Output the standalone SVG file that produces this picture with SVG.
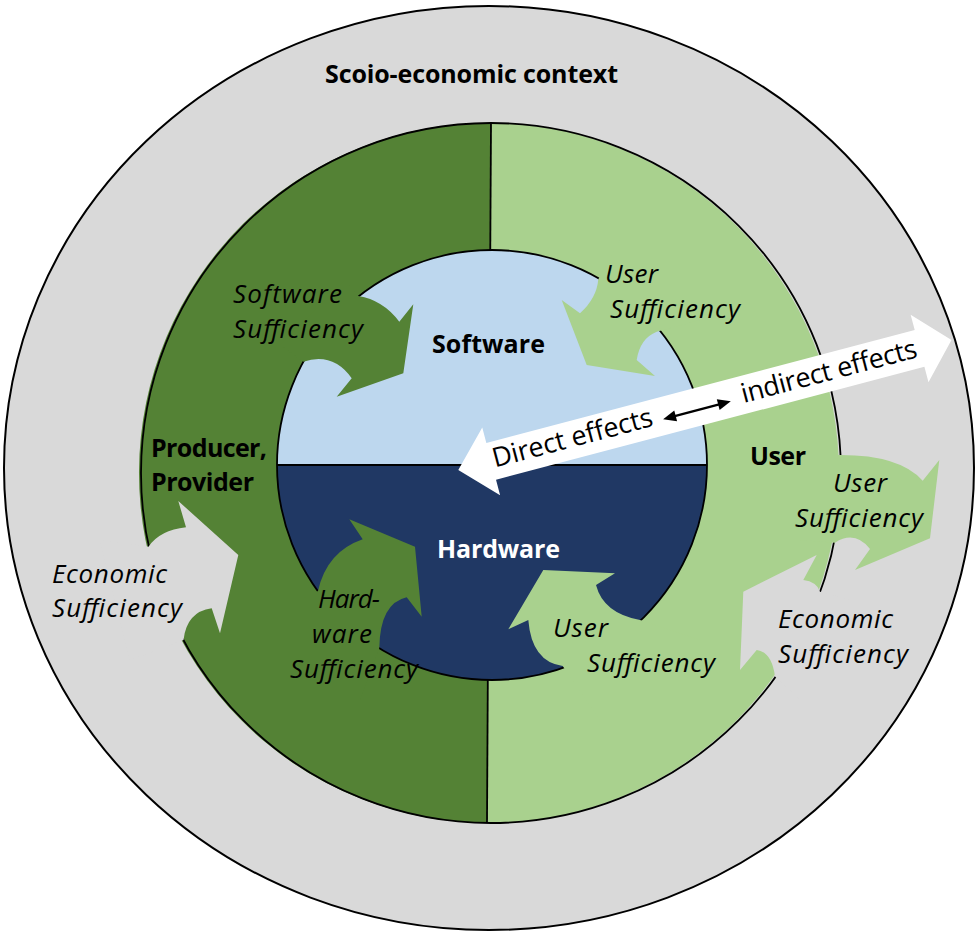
<svg xmlns="http://www.w3.org/2000/svg" width="979" height="933" viewBox="0 0 979 933">
<style>
.st{stroke:#000;stroke-width:1.8;fill:none}
.dg{fill:#548235}
.lg{fill:#a9d18e}
.gr{fill:#d9d9d9}
.bl{fill:#bdd7ee}
.nv{fill:#203864}
.it{font-family:"Open Sans","Liberation Sans",sans-serif;font-style:italic;font-size:26px;fill:#000}
.bd{font-family:"Open Sans","Liberation Sans",sans-serif;font-weight:bold;font-size:25px;fill:#000}
.wt{font-family:"Open Sans","Liberation Sans",sans-serif;font-size:27px;fill:#000}
</style>
<rect width="979" height="933" fill="#fff"/>
<g id="context">
<ellipse cx="489" cy="468" rx="485" ry="462" class="gr" stroke="#000" stroke-width="2"/>
<text class="bd" x="325" y="83" textLength="293">Scoio-economic context</text>
</g>
<g id="ring">
<path class="dg" d="M491,123 A350,350 0 0 0 487,823 Z"/>
<path class="lg" d="M491,123 A350,350 0 0 1 487,823 Z"/>
<circle class="st" cx="491" cy="473" r="350"/>
<line class="st" x1="491" y1="123" x2="487" y2="823"/>
</g>
<g id="economic-left">
<path class="gr" d="M148.5,546.7 Q160,530 186,527.3 L178.3,501 L238.3,555 L220,633.3 L211.7,608.3 Q186.7,611.7 183.5,640 L130,660 L100,540 Z"/>
</g>
<g id="economic-right">
<path class="gr" d="M820,591.7 Q816.7,581.7 803.3,580 L816.7,555 L743.3,591.7 L740,670 L756.7,650 Q771.7,651.7 775,676.5 L800,700 L850,600 Z"/>
</g>
<g id="user-outer">
<path class="lg" d="M840.5,455 Q900,455 922.7,480.7 L939.3,460 L930,538.3 L855,570 L870,549 Q855,530 835,542.7 L800,540 L800,455 Z"/>
</g>
<g id="core">
<path class="bl" d="M277,465 A215,215 0 0 1 707,465 Z"/>
<path class="nv" d="M277,465 A215,215 0 0 0 707,465 Z"/>
<circle class="st" cx="492" cy="465" r="215"/>
<line class="st" x1="277" y1="465" x2="707" y2="465"/>
</g>
<g id="software-sufficiency">
<path class="dg" d="M358.3,296 Q383,300 399.3,321.7 L413.3,304.3 L403.3,373.3 L336.7,396.7 L351.7,378.3 Q333,352 303.3,361.7 L280,345 L345,280 Z"/>
</g>
<g id="user-sufficiency-top">
<path class="lg" d="M598.3,279.3 Q596.7,298.3 580,313.3 L561.7,300 L586.7,365 L655,376 L636.7,360 Q640,338.3 656.7,331.7 L700,320 L620,240 Z"/>
</g>
<g id="hardware-sufficiency">
<path class="dg" d="M318,591 Q326.7,551.7 362.7,539.3 L349.3,519.3 L415,546.7 L421.7,616.7 L406.7,597.3 Q380,603.3 379.3,648 L360,700 L260,620 Z"/>
</g>
<g id="user-sufficiency-bottom">
<path class="lg" d="M640,620 Q603.3,613.3 596,585 L615,573.3 L543.3,570 L508.3,629.3 L528.3,620 Q531.7,661.7 562.7,666 L600,720 L700,640 Z"/>
</g>
<g id="labels">
<text class="bd" x="432" y="353" textLength="113">Software</text>
<text class="bd" x="437" y="558" textLength="123" style="fill:#fff">Hardware</text>
<text class="bd" x="151" y="457" textLength="116">Producer,</text>
<text class="bd" x="151" y="491" textLength="103">Provider</text>
<text class="bd" x="750" y="465" textLength="56">User</text>
<text class="it" x="233" y="303" textLength="109">Software</text>
<text class="it" x="233" y="338" textLength="130">Sufficiency</text>
<text class="it" x="605" y="283" textLength="53">User</text>
<text class="it" x="610" y="318" textLength="130">Sufficiency</text>
<text class="it" x="318" y="608" textLength="62">Hard-</text>
<text class="it" x="312" y="643" textLength="60">ware</text>
<text class="it" x="290" y="678" textLength="128">Sufficiency</text>
<text class="it" x="553" y="637" textLength="55">User</text>
<text class="it" x="587" y="672" textLength="128">Sufficiency</text>
<text class="it" x="833" y="492" textLength="54">User</text>
<text class="it" x="795" y="527" textLength="128">Sufficiency</text>
<text class="it" x="778" y="628" textLength="115">Economic</text>
<text class="it" x="778" y="663" textLength="130">Sufficiency</text>
<text class="it" x="52" y="583" textLength="115">Economic</text>
<text class="it" x="52" y="617" textLength="130">Sufficiency</text>
</g>
<g id="connectors" transform="translate(458.3,470) rotate(-14.76)">
<path fill="#fff" d="M0,0 L34,-35 L34,-19 L477,-19 L477,-35 L510,0 L477,35 L477,19 L34,19 L34,35 Z"/>
<text class="wt" x="36" y="7" textLength="165">Direct effects</text>
<text class="wt" x="293" y="8" textLength="181">indirect effects</text>
<line x1="222" y1="3" x2="270" y2="3" stroke="#000" stroke-width="2.5"/>
<polygon points="211,3 224,-2.5 224,8.5" fill="#000"/>
<polygon points="281,3 268,-2.5 268,8.5" fill="#000"/>
</g>
</svg>
